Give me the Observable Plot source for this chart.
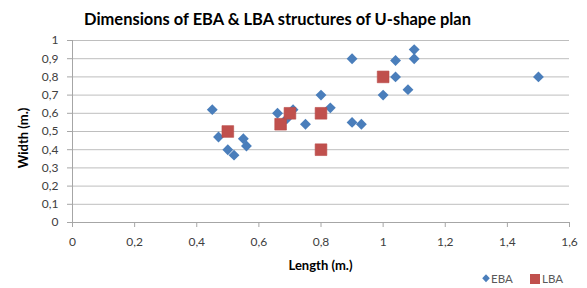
<!DOCTYPE html>
<html>
<head>
<meta charset="utf-8">
<script src="https://cdn.jsdelivr.net/npm/d3@7"></script>
<script src="https://cdn.jsdelivr.net/npm/@observablehq/plot@0.6"></script>
<style>
  body { margin: 0; background: #fff; }
  #chart { width: 587px; height: 288px; }
</style>
</head>
<body>
<div id="chart"></div>
<script>
// ---- data ----
const titleText = "Dimensions of EBA & LBA structures of U-shape plan";
const xLabel = "Length (m.)";
const yLabel = "Width (m.)";
const seriesNames = ["EBA", "LBA"];

const ebaLength = [0.45, 0.47, 0.50, 0.52, 0.55, 0.56, 0.66, 0.69, 0.71, 0.75, 0.80, 0.83, 0.90, 0.90, 0.93, 1.00, 1.04, 1.04, 1.08, 1.10, 1.10, 1.50];
const ebaWidth  = [0.62, 0.47, 0.40, 0.37, 0.46, 0.42, 0.60, 0.57, 0.62, 0.54, 0.70, 0.63, 0.90, 0.55, 0.54, 0.70, 0.89, 0.80, 0.73, 0.95, 0.90, 0.80];

const lbaLength = [0.50, 0.67, 0.70, 0.80, 0.80, 1.00];
const lbaWidth  = [0.50, 0.54, 0.60, 0.60, 0.40, 0.80];

const xTicks = [0, 0.2, 0.4, 0.6, 0.8, 1, 1.2, 1.4, 1.6];
const xTickLabels = ["0", "0,2", "0,4", "0,6", "0,8", "1", "1,2", "1,4", "1,6"];
const yTicks = [0, 0.1, 0.2, 0.3, 0.4, 0.5, 0.6, 0.7, 0.8, 0.9, 1];
const yTickLabels = ["0", "0,1", "0,2", "0,3", "0,4", "0,5", "0,6", "0,7", "0,8", "0,9", "1"];

const colors = ["#4a7ebb", "#c0504d"];

// ---- tables ----
const eba = ebaLength.map((x, i) => ({x, y: ebaWidth[i]}));
const lba = lbaLength.map((x, i) => ({x, y: lbaWidth[i]}));

const diamondSym = {
  draw(ctx, size) {
    const r = Math.sqrt(size) * 0.62625;
    ctx.moveTo(0, -r); ctx.lineTo(r, 0); ctx.lineTo(0, r); ctx.lineTo(-r, 0); ctx.closePath();
  }
};

const W = 587, H = 288;
const mL = 72, mR = 18, mT = 40, mB = 66;

const plot = Plot.plot({
  width: W, height: H,
  marginLeft: mL, marginRight: mR, marginTop: mT, marginBottom: mB,
  x: {domain: [0, 1.6]},
  y: {domain: [0, 1]},
  style: {fontFamily: "Lato, sans-serif", fontSize: "12px", color: "#404040", background: "white", overflow: "visible"},
  marks: [
    Plot.gridY(yTicks.slice(1), {stroke: "#bebebe", strokeOpacity: 1}),
    Plot.ruleX([0], {stroke: "#a6a6a6"}),
    Plot.ruleY([0], {stroke: "#a6a6a6"}),
    Plot.axisY({ticks: yTicks, tickFormat: d => yTickLabels[yTicks.indexOf(d)], tickSize: 5, tickPadding: 9, stroke: "#a6a6a6", fill: "#404040", label: null}),
    Plot.axisX({ticks: xTicks, tickFormat: d => xTickLabels[xTicks.indexOf(d)], tickSize: 5, tickPadding: 10, stroke: "#a6a6a6", fill: "#404040", label: null}),
    Plot.dot(eba, {x: "x", y: "y", symbol: diamondSym, r: 4.9, fill: colors[0], stroke: null}),
    Plot.dot(lba, {x: "x", y: "y", symbol: "square", r: 6.6, fill: colors[1], stroke: "#b94a47", strokeWidth: 0.6})
  ]
});

document.getElementById("chart").appendChild(plot);
const svg = d3.select(plot);

// title
svg.append("text")
  .attr("x", 277.5).attr("y", 25)
  .attr("text-anchor", "middle")
  .attr("font-family", "Lato, sans-serif")
  .attr("font-weight", "bold")
  .attr("font-size", 17.5)
  .attr("fill", "#000")
  .attr("textLength", 387)
  .attr("lengthAdjust", "spacingAndGlyphs")
  .text(titleText);

// axis labels
svg.append("text")
  .attr("x", (mL + (W - mR)) / 2).attr("y", 270)
  .attr("text-anchor", "middle")
  .attr("font-family", "Lato, sans-serif")
  .attr("font-weight", "bold")
  .attr("font-size", 13)
  .attr("fill", "#000")
  .text(xLabel);

svg.append("text")
  .attr("transform", "translate(28,138) rotate(-90)")
  .attr("text-anchor", "middle")
  .attr("font-family", "Lato, sans-serif")
  .attr("font-weight", "bold")
  .attr("font-size", 13)
  .attr("fill", "#000")
  .text(yLabel);

// legend
const lg = svg.append("g")
  .attr("font-family", "Lato, sans-serif")
  .attr("font-size", 11.5)
  .attr("fill", "#595959")
  .attr("text-anchor", "start");
lg.append("path").attr("d", "M486,274.3L489.8,278.3L486,282.3L482.2,278.3Z").attr("fill", colors[0]);
lg.append("text").attr("x", 491).attr("y", 283).text(seriesNames[0]);
lg.append("rect").attr("x", 530).attr("y", 274).attr("width", 10).attr("height", 10).attr("fill", colors[1]);
lg.append("text").attr("x", 542).attr("y", 283).text(seriesNames[1]);
</script>
</body>
</html>
